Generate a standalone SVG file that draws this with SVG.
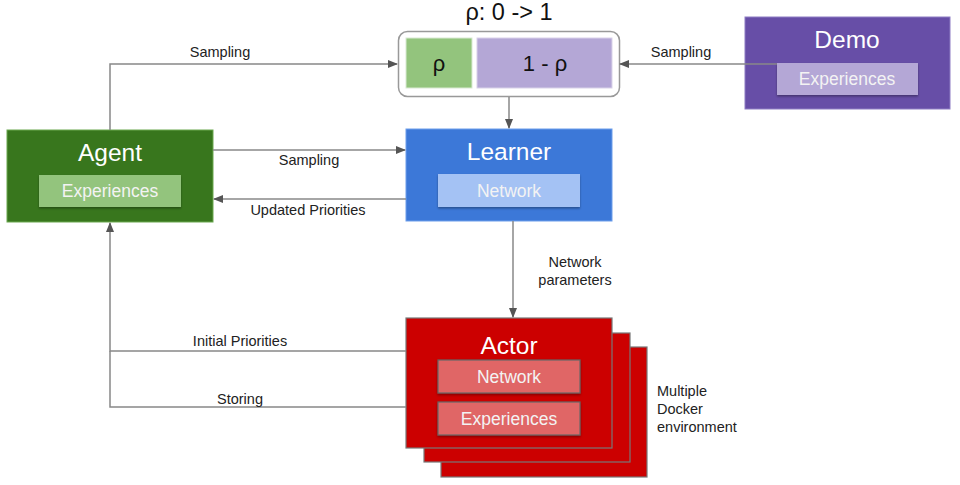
<svg xmlns="http://www.w3.org/2000/svg" width="960" height="485" viewBox="0 0 960 485">
<defs>
<marker id="arr" markerWidth="10" markerHeight="8" refX="9" refY="4" orient="auto" markerUnits="userSpaceOnUse">
<path d="M0,0 L10,4 L0,8 Z" fill="#555"/>
</marker>
<filter id="sh" x="-10%" y="-20%" width="120%" height="150%">
<feDropShadow dx="0" dy="1.5" stdDeviation="1.2" flood-color="#000" flood-opacity="0.35"/>
</filter>
</defs>
<style>
.t{font-family:"Liberation Sans",Arial,sans-serif;}
.lbl{font-family:"Liberation Sans",Arial,sans-serif;font-size:14.5px;fill:#222;text-anchor:middle;}
.title{font-family:"Liberation Sans",Arial,sans-serif;font-size:24.5px;fill:#fff;text-anchor:middle;}
.inner{font-family:"Liberation Sans",Arial,sans-serif;font-size:17.5px;fill:#f3f3f3;text-anchor:middle;}
.conn{fill:none;stroke:#888;stroke-width:1.5;}
</style>
<rect width="960" height="485" fill="#fff"/>

<g id="buffer">
<text class="t" x="509" y="20" font-size="23.5" fill="#111" text-anchor="middle">ρ: 0 -&gt; 1</text>
<rect x="398.5" y="31.5" width="221" height="65" rx="9" fill="#fff" stroke="#999" stroke-width="1.5"/>
<rect x="406" y="38" width="66" height="50" fill="#93c47d" stroke="#d9ead3" stroke-width="1"/>
<rect x="477" y="38" width="135" height="50" fill="#b4a7d6" stroke="#d9d2e9" stroke-width="1"/>
<text class="t" x="439" y="71" font-size="22" fill="#111" text-anchor="middle">ρ</text>
<text class="t" x="545" y="71" font-size="22" fill="#111" text-anchor="middle">1 - ρ</text>
</g>

<g id="demo">
<rect x="745" y="17" width="205" height="92" fill="#674ea7" stroke="#8e7cc3" stroke-width="1"/>
<text class="title" x="847" y="48">Demo</text>
</g>

<g id="agent">
<rect x="7" y="130" width="206" height="92" fill="#38761d" stroke="#6aa84f" stroke-width="1"/>
<text class="title" x="110" y="161">Agent</text>
<rect x="39" y="175" width="142" height="32" fill="#93c47d" filter="url(#sh)"/>
<text class="inner" x="110" y="197">Experiences</text>
</g>

<g id="learner">
<rect x="406" y="129" width="206" height="92" fill="#3c78d8" stroke="#6d9eeb" stroke-width="1"/>
<text class="title" x="509" y="160">Learner</text>
<rect x="438" y="174" width="142" height="33" fill="#a4c2f4" filter="url(#sh)"/>
<text class="inner" x="509" y="197">Network</text>
</g>

<g id="actor">
<rect x="441" y="347" width="206" height="130" fill="#cc0000" stroke="#777" stroke-width="1.2"/>
<rect x="424" y="333" width="206" height="129" fill="#cc0000" stroke="#777" stroke-width="1.2"/>
<rect x="406" y="318" width="206" height="130" fill="#cc0000" stroke="#777" stroke-width="1.2"/>
<text class="title" x="509" y="354">Actor</text>
<rect x="438" y="360" width="142" height="33" fill="#e06666" stroke="#666" stroke-width="1.2" filter="url(#sh)"/>
<text class="inner" x="509" y="383">Network</text>
<rect x="438" y="402" width="142" height="33" fill="#e06666" stroke="#666" stroke-width="1.2" filter="url(#sh)"/>
<text class="inner" x="509" y="425">Experiences</text>
</g>

<g id="connectors">
<polyline class="conn" points="110,130 110,64 397,64" marker-end="url(#arr)"/>
<text class="lbl" x="220" y="57">Sampling</text>
<polyline class="conn" points="779,64 620,64" marker-end="url(#arr)"/>
<text class="lbl" x="681" y="57">Sampling</text>
<line class="conn" x1="509" y1="97" x2="509" y2="128" marker-end="url(#arr)"/>
<line class="conn" x1="213" y1="150" x2="405" y2="150" marker-end="url(#arr)"/>
<text class="lbl" x="309" y="165">Sampling</text>
<line class="conn" x1="406" y1="199" x2="214" y2="199" marker-end="url(#arr)"/>
<text class="lbl" x="308" y="215">Updated Priorities</text>
<line class="conn" x1="513" y1="221" x2="513" y2="317" marker-end="url(#arr)"/>
<text class="lbl" x="575" y="267">Network</text>
<text class="lbl" x="575" y="285">parameters</text>
<polyline class="conn" points="406,351 110,351 110,223" marker-end="url(#arr)"/>
<text class="lbl" x="240" y="346">Initial Priorities</text>
<polyline class="conn" points="406,407 110,407 110,351"/>
<text class="lbl" x="240" y="404">Storing</text>
</g>

<g id="demo-experiences">
<rect x="777" y="63" width="141" height="32" fill="#b4a7d6" filter="url(#sh)"/>
<text class="inner" x="847" y="85">Experiences</text>
</g>

<g id="docker-note">
<text class="t" x="657" y="396" font-size="14.5" fill="#222">Multiple</text>
<text class="t" x="657" y="414" font-size="14.5" fill="#222">Docker</text>
<text class="t" x="657" y="432" font-size="14.5" fill="#222">environment</text>
</g>
</svg>
